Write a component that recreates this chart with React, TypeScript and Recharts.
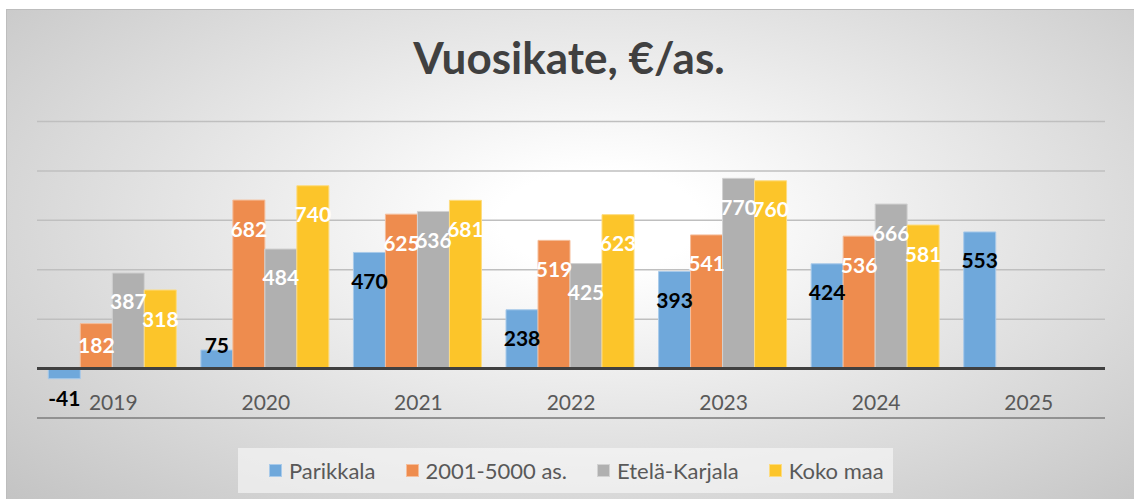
import React from 'react'
import {
  BarChart, Bar, XAxis, YAxis, CartesianGrid, LabelList, ReferenceLine,
} from 'recharts'

const years = ['2019', '2020', '2021', '2022', '2023', '2024', '2025']
const parikkala = [-41, 75, 470, 238, 393, 424, 553]
const kunnat2001_5000 = [182, 682, 625, 519, 541, 536, null]
const etelaKarjala = [387, 484, 636, 425, 770, 666, null]
const kokoMaa = [318, 740, 681, 623, 760, 581, null]
const yTicks = [-200, 0, 200, 400, 600, 800, 1000]

const series = [
  { key: 'parikkala', name: 'Parikkala', fill: '#6FA8DB', stroke: '#A8CAEA', label: '#000000' },
  { key: 'k2001', name: '2001-5000 as.', fill: '#EE8C4E', stroke: '#F5BE9B', label: '#FFFFFF' },
  { key: 'ek', name: 'Etelä-Karjala', fill: '#B0B0B0', stroke: '#D2D2D2', label: '#FFFFFF' },
  { key: 'koko', name: 'Koko maa', fill: '#FCC52A', stroke: '#FDDC80', label: '#FFFFFF' },
]

const rows = years.map((year, i) => ({
  year,
  parikkala: parikkala[i],
  k2001: kunnat2001_5000[i],
  ek: etelaKarjala[i],
  koko: kokoMaa[i],
}))

const FONT = 'Lato, "Open Sans", sans-serif'

function makeLabel(color: string) {
  return (props: any) => {
    const { x, y, width, height, value } = props
    if (value === null || value === undefined) return null
    const top = Math.min(y, y + height)
    const bottom = Math.max(y, y + height)
    const cy = value < 0 ? bottom + 19 : Math.min(top + 28, bottom - 24)
    return (
      <text
        x={x + width / 2}
        y={cy}
        textAnchor="middle"
        dominantBaseline="central"
        fill={color}
        fontFamily={FONT}
        fontWeight={700}
        fontSize={21}
      >
        {value}
      </text>
    )
  }
}

// labels sit just under the zero line, not at the bottom of the plot
function YearTick(props: any) {
  const { x, y, payload } = props
  return (
    <text
      x={x}
      y={y - 25}
      textAnchor="middle"
      dominantBaseline="central"
      fill="#595959"
      fontFamily={FONT}
      fontSize={21}
    >
      {payload.value}
    </text>
  )
}

function LegendBox() {
  return (
    <div
      style={{
        position: 'absolute',
        left: 238,
        top: 448,
        width: 655,
        height: 45,
        background: 'rgba(250,250,250,0.6)',
        display: 'flex',
        alignItems: 'center',
        paddingLeft: 31,
        boxSizing: 'border-box',
        gap: 30,
        fontFamily: FONT,
        fontSize: 22,
        color: '#595959',
      }}
    >
      {series.map((s) => (
        <div key={s.key} style={{ display: 'flex', alignItems: 'center', gap: 7 }}>
          <span
            style={{
              width: 11,
              height: 11,
              background: s.fill,
              border: `1px solid ${s.stroke}`,
              display: 'inline-block',
            }}
          />
          <span>{s.name}</span>
        </div>
      ))}
    </div>
  )
}

export default function App() {
  return (
    <div style={{ position: 'fixed', left: 0, top: 0, width: 1134, height: 499, background: '#fff', overflow: 'hidden' }}>
      <div
        style={{
          position: 'absolute',
          left: 6,
          top: 9,
          width: 1140,
          height: 500,
          border: '1px solid #bdbdbd',
          background: 'radial-gradient(ellipse farthest-corner at 52% 42%, #ffffff 12%, #c2c2c2 100%)',
        }}
      />
      <div
        style={{
          position: 'absolute',
          left: 0,
          width: 1138,
          top: 31,
          textAlign: 'center',
          fontFamily: FONT,
          fontWeight: 700,
          fontSize: 44,
          lineHeight: '52px',
          color: '#404040',
        }}
      >
        Vuosikate, €/as.
      </div>
      <div style={{ position: 'absolute', left: 0, top: 0 }}>
        <BarChart
          width={1134}
          height={499}
          data={rows}
          margin={{ top: 121.5, right: 29, bottom: 51, left: 37 }}
          barCategoryGap="7.4%"
          barGap={0}
        >
          <CartesianGrid vertical={false} stroke="#bfbfbf" strokeWidth={1.5} />
          <XAxis
            dataKey="year"
            height={30}
            axisLine={false}
            tickLine={false}
            tick={<YearTick />}
            interval={0}
          />
          <YAxis hide domain={[-200, 1000]} ticks={yTicks} />
          <ReferenceLine y={-200} stroke="#808080" strokeWidth={1.5} />
          {series.map((s) => (
            <Bar
              key={s.key}
              dataKey={s.key}
              name={s.name}
              fill={s.fill}
              stroke={s.stroke}
              strokeWidth={1}
              isAnimationActive={false}
            >
              <LabelList dataKey={s.key} content={makeLabel(s.label)} />
            </Bar>
          ))}
          <ReferenceLine y={0} stroke="#404040" strokeWidth={3} />
        </BarChart>
      </div>
      <LegendBox />
    </div>
  )
}
